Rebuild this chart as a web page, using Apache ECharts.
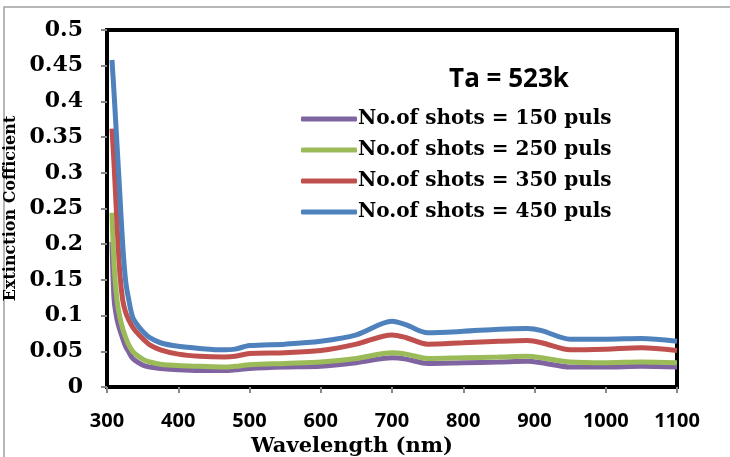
<!DOCTYPE html>
<html>
<head>
<meta charset="utf-8">
<script src="https://cdn.jsdelivr.net/npm/echarts@6/dist/echarts.min.js"></script>
<style>
  html, body { margin: 0; padding: 0; background: #fff; }
  #main { width: 730px; height: 457px; }
</style>
</head>
<body>
<div id="main"></div>
<script>
// wavelength (nm)
var wavelength = [307, 310, 314, 318, 322, 326, 330, 336, 344, 352, 360, 375, 400, 430, 465, 480, 500, 550, 600, 650, 700, 720, 750, 800, 850, 890, 910, 950, 1000, 1050, 1100];

// extinction coefficient per number of shots
var k150 = [0.203, 0.122, 0.095, 0.080, 0.068, 0.057, 0.050, 0.040, 0.034, 0.030, 0.028, 0.026, 0.024, 0.023, 0.023, 0.024, 0.026, 0.028, 0.029, 0.034, 0.041, 0.039, 0.033, 0.034, 0.035, 0.036, 0.034, 0.028, 0.028, 0.029, 0.028];
var k250 = [0.244, 0.170, 0.122, 0.098, 0.082, 0.070, 0.060, 0.050, 0.043, 0.038, 0.035, 0.032, 0.030, 0.029, 0.028, 0.029, 0.031, 0.033, 0.035, 0.040, 0.048, 0.046, 0.040, 0.041, 0.042, 0.043, 0.041, 0.035, 0.034, 0.035, 0.034];
var k350 = [0.362, 0.310, 0.230, 0.160, 0.122, 0.105, 0.095, 0.084, 0.074, 0.066, 0.059, 0.052, 0.046, 0.043, 0.042, 0.043, 0.047, 0.048, 0.051, 0.060, 0.073, 0.069, 0.060, 0.062, 0.064, 0.065, 0.062, 0.052, 0.053, 0.055, 0.051];
var k450 = [0.458, 0.410, 0.340, 0.270, 0.200, 0.150, 0.125, 0.098, 0.085, 0.076, 0.069, 0.062, 0.057, 0.054, 0.052, 0.053, 0.058, 0.060, 0.064, 0.073, 0.092, 0.087, 0.076, 0.078, 0.081, 0.082, 0.079, 0.067, 0.067, 0.068, 0.064];

var seriesNames = ['No.of shots = 150 puls', 'No.of shots = 250 puls', 'No.of shots = 350 puls', 'No.of shots = 450 puls'];
var seriesColors = ['#8064A2', '#9BBB59', '#C0504D', '#4F81BD'];
var seriesValues = [k150, k250, k350, k450];

var chart = echarts.init(document.getElementById('main'));

function pairs(ys) {
    return wavelength.map(function (x, i) { return [x, ys[i]]; });
}

var series = seriesValues.map(function (ys, i) {
    return {
        name: seriesNames[i],
        type: 'line',
        data: pairs(ys),
        smooth: 0.3,
        showSymbol: false,
        lineStyle: { width: 5, color: seriesColors[i] },
        itemStyle: { color: seriesColors[i] }
    };
});

chart.setOption({
    animation: false,
    backgroundColor: '#fff',
    title: {
        text: 'Ta = 523k',
        left: 504,
        top: 62,
        textAlign: 'center',
        textStyle: { fontFamily: 'Open Sans', fontWeight: 'bold', fontSize: 26, color: '#000' }
    },
    legend: {
        orient: 'vertical',
        left: 296,
        top: 104,
        itemWidth: 56,
        itemHeight: 5,
        itemGap: 11,
        icon: 'roundRect',
        data: seriesNames,
        textStyle: { fontFamily: 'DejaVu Serif', fontWeight: 'bold', fontSize: 20, color: '#000', padding: [0, 0, 0, -4] }
    },
    grid: {
        left: 107, right: 53, top: 30, bottom: 70,
        outerBoundsMode: 'none',
        show: true,
        borderColor: '#000',
        borderWidth: 4
    },
    xAxis: {
        type: 'value',
        min: 300, max: 1100, interval: 100,
        name: 'Wavelength (nm)',
        nameLocation: 'middle',
        nameGap: 49,
        nameTextStyle: { fontFamily: 'DejaVu Serif', fontWeight: 'bold', fontSize: 21, color: '#000', padding: [0, 80, 0, 0] },
        axisLine: { lineStyle: { color: '#000', width: 3 } },
        axisTick: { show: true, length: 6, lineStyle: { color: '#888', width: 2 } },
        axisLabel: {
            fontFamily: 'Open Sans', fontWeight: 'bold', fontSize: 20, color: '#000', margin: 24,
            formatter: function (v) { return String(v); }
        },
        splitLine: { show: false }
    },
    yAxis: {
        type: 'value',
        min: 0, max: 0.5, interval: 0.05,
        name: 'Extinction Cofficient',
        nameLocation: 'middle',
        nameGap: 80,
        nameTextStyle: { fontFamily: 'DejaVu Serif', fontWeight: 'bold', fontSize: 16, color: '#000' },
        axisLine: { show: true, lineStyle: { color: '#000', width: 3 } },
        axisTick: { show: true, length: 6, lineStyle: { color: '#888', width: 2 } },
        axisLabel: {
            fontFamily: 'DejaVu Serif', fontWeight: 'bold', fontSize: 22, color: '#000', margin: 24,
            formatter: function (v) { return String(+v.toFixed(2)); }
        },
        splitLine: { show: false }
    },
    graphic: [{
        type: 'rect',
        shape: { x: 4, y: 7, width: 740, height: 470 },
        style: { fill: null, stroke: '#a0a0a0', lineWidth: 1.5 },
        silent: true
    }],
    series: series
});
</script>
</body>
</html>
